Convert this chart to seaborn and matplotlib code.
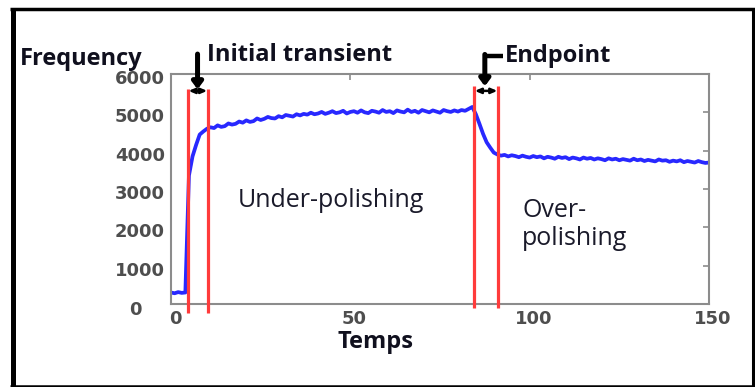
import numpy as np
import pandas as pd
import matplotlib
matplotlib.use("Agg")
import matplotlib.pyplot as plt
import seaborn as sns
from matplotlib.transforms import ScaledTranslation
from matplotlib.lines import Line2D

# ---- data ----
temps = list(range(0, 151))
frequency = [
    300, 280, 310, 290, 300, 3350, 3850, 4150, 4420, 4500,
    4570, 4610, 4590, 4660, 4620, 4640, 4710, 4680, 4700, 4760,
    4730, 4790, 4750, 4770, 4840, 4800, 4830, 4880, 4850, 4840,
    4900, 4870, 4930, 4910, 4890, 4950, 4920, 4960, 4940, 4990,
    4950, 4970, 5010, 4960, 4990, 5030, 4980, 5000, 5040, 4970,
    5010, 5030, 4990, 5050, 5000, 4980, 5040, 5020, 4990, 5060,
    5010, 5030, 4980, 5050, 5020, 5000, 5070, 5010, 5040, 4990,
    5060, 5030, 5000, 5050, 5020, 4990, 5060, 5030, 5010, 5050,
    5020, 5060, 5040, 5090, 5140, 4950, 4700, 4440, 4220, 4080,
    3950, 3900, 3870, 3890, 3850, 3880, 3860, 3830, 3870, 3840,
    3820, 3860, 3830, 3850, 3800, 3840, 3820, 3790, 3840, 3810,
    3830, 3780, 3820, 3800, 3770, 3820, 3790, 3810, 3770, 3800,
    3780, 3750, 3800, 3770, 3790, 3750, 3780, 3760, 3740, 3790,
    3750, 3770, 3730, 3760, 3740, 3720, 3770, 3740, 3750, 3710,
    3740, 3720, 3750, 3700, 3730, 3710, 3690, 3730, 3700, 3680,
    3690,
]
y_ticks = [0, 1000, 2000, 3000, 4000, 5000, 6000]
x_ticks = [0, 50, 100, 150]
transient_bounds = [4.7, 10.3]
endpoint_bounds = [84.5, 91.2]

W, H = 755, 387

sns.set_style("white")
plt.rcParams["font.family"] = ["Open Sans", "DejaVu Sans"]

fig = plt.figure(figsize=(W / 100, H / 100), dpi=100)
fig.patch.set_facecolor("white")


def px(x, y):
    return x / W, 1 - y / H


ax = fig.add_axes([171 / W, 1 - 304 / H, (709 - 171) / W, (304 - 74) / H])
df = pd.DataFrame({"Temps": temps, "Frequency": frequency})
sns.lineplot(data=df, x="Temps", y="Frequency", ax=ax, color="#1010ff",
             lw=2.7, alpha=0.9)
ax.set_xlim(0, 150)
ax.set_ylim(0, 6000)
ax.set_xlabel("")
ax.set_ylabel("")
ax.set_xticks(x_ticks)
ax.set_yticks(y_ticks)
for s in ax.spines.values():
    s.set_color("#8c8c8c")
    s.set_linewidth(1.5)
ax.tick_params(direction="in", length=4, width=1.2, color="#8c8c8c",
               top=True, right=True, labelsize=13, labelcolor="#4e4e4e")
ax.tick_params(axis="y", pad=4.3)
ax.tick_params(axis="x", pad=4.5)
for lbl in ax.get_xticklabels() + ax.get_yticklabels():
    lbl.set_fontfamily("DejaVu Sans")
    lbl.set_fontweight("bold")
for lbl in ax.get_yticklabels():
    if lbl.get_text() == "0":
        lbl.set_transform(lbl.get_transform() + ScaledTranslation(-0.23, -0.04, fig.dpi_scale_trans))
    else:
        lbl.set_transform(lbl.get_transform() + ScaledTranslation(0, -0.03, fig.dpi_scale_trans))
for lbl in ax.get_xticklabels():
    lbl.set_transform(lbl.get_transform() + ScaledTranslation(0.04, 0, fig.dpi_scale_trans))

# red region boundaries
red = "#ff3b3b"
ax.vlines(transient_bounds, -230, 5600, colors=red, lw=2.3, clip_on=False, zorder=4)
ax.vlines(endpoint_bounds, -100, 5690, colors=red, lw=2.3, clip_on=False, zorder=4)

# double-headed arrows between the red lines
for b in (transient_bounds, endpoint_bounds):
    ax.annotate("", xy=(b[0] + 0.2, 5560), xytext=(b[1] - 0.2, 5560),
                arrowprops=dict(arrowstyle="<|-|>,head_length=0.35,head_width=0.15",
                                color="black", lw=1.8, shrinkA=0, shrinkB=0),
                annotation_clip=False, zorder=5)

# pointer arrows
ax.annotate("", xy=(7.4, 5600), xytext=(7.4, 6520),
            arrowprops=dict(arrowstyle="-|>,head_length=0.4,head_width=0.3",
                            color="black", lw=3.6, shrinkA=0, shrinkB=0),
            annotation_clip=False, zorder=5)
ax.plot([87.5, 92.6], [6470, 6470], color="black", lw=3.2, clip_on=False,
        solid_capstyle="butt", zorder=5)
ax.annotate("", xy=(87.5, 5680), xytext=(87.5, 6510),
            arrowprops=dict(arrowstyle="-|>,head_length=0.4,head_width=0.3",
                            color="black", lw=3.6, shrinkA=0, shrinkB=0),
            annotation_clip=False, zorder=5)

# texts
bold_size = 17
reg_size = 18
fig.text(*px(20, 65), "Frequency", fontsize=bold_size, fontweight="bold",
         color="#10101e", ha="left", va="baseline")
fig.text(*px(207, 61), "Initial transient", fontsize=bold_size, fontweight="bold",
         color="#10101e", ha="left", va="baseline")
fig.text(*px(505, 62), "Endpoint", fontsize=bold_size, fontweight="bold",
         color="#10101e", ha="left", va="baseline")
fig.text(*px(338, 348), "Temps", fontsize=bold_size, fontweight="bold",
         color="#10101e", ha="left", va="baseline")
fig.text(*px(238, 207), "Under-polishing", fontsize=reg_size,
         color="#1a1a2a", ha="left", va="baseline")
fig.text(*px(522, 217), "Over-", fontsize=reg_size,
         color="#1a1a2a", ha="left", va="baseline")
fig.text(*px(522, 245), "polishing", fontsize=reg_size,
         color="#1a1a2a", ha="left", va="baseline")

# outer frame
frame = dict(color="black", transform=fig.transFigure, solid_capstyle="butt")
fig.add_artist(Line2D(*zip(px(12.5, 8), px(12.5, 387)), lw=3.6, **frame))
fig.add_artist(Line2D(*zip(px(10, 9), px(755, 9)), lw=2.5, **frame))
fig.add_artist(Line2D(*zip(px(10, 385.5), px(755, 385.5)), lw=1.8, **frame))
fig.add_artist(Line2D(*zip(px(753, 8), px(753, 387)), lw=2.2, **frame))

fig.savefig("out.png", dpi=100)
